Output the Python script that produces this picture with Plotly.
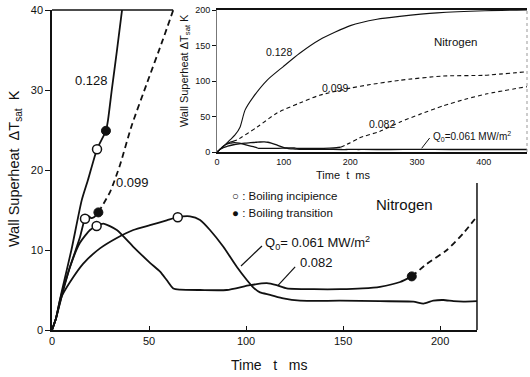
import plotly.graph_objects as go

# ---------------- main chart data (t in ms, wall superheat in K) ----------------
t128 = [0, 2, 5, 10, 15.3, 18.6, 23.2, 27.8, 28.9, 30.8, 33.5, 36.1]
y128 = [0, 1.4, 4.8, 10.0, 16.2, 18.8, 22.6, 24.9, 26.3, 30.0, 35.0, 40.0]

t099 = [0, 2, 4.1, 9.3, 14.4, 17.0, 18.6, 20.1, 21.6, 23.9]
y099 = [0, 1.4, 3.75, 7.9, 11.6, 13.9, 14.25, 14.0, 14.1, 14.7]
t099_dash = [23.9, 30, 35, 41, 49, 57, 62.5]
y099_dash = [14.7, 17.3, 20.6, 25.5, 30.9, 36.2, 40.0]

t082 = [0, 2, 5.0, 9.3, 14.4, 19.6, 23.0, 26.4, 33.4, 41.9, 50.5, 55.7, 59.1, 62.5, 66,
        76.3, 90, 102, 110.7, 115.8, 121, 135, 148.5, 160, 169, 179.4, 185.4]
y082 = [0, 1.4, 4.2, 7.9, 10.9, 12.5, 13.0, 13.3, 12.5, 10.4, 8.4, 7.3, 6.25, 5.2, 5.05,
        5.0, 5.0, 5.6, 5.85, 5.6, 5.2, 5.1, 5.1, 5.2, 5.4, 6.0, 6.7]
t082_dash = [185.4, 193.1, 203.5, 212.0, 219.0]
y082_dash = [6.7, 8.25, 10.0, 12.1, 14.2]

t061 = [0, 2, 5, 9.3, 16.1, 24.7, 33.4, 41.9, 50.5, 59.1, 64.8, 71.1, 76.3, 81.4, 88.3,
        95.2, 100.4, 103.8, 107.2, 112.4, 119.2, 127.8, 148.5, 169, 186.2, 191.4, 196.5,
        201.7, 206.9, 212, 219]
y061 = [0, 1.4, 4.2, 6.0, 8.3, 10.2, 11.5, 12.5, 13.1, 13.7, 14.1, 14.2, 13.75, 12.5, 10.4,
        7.9, 6.25, 5.3, 4.7, 4.4, 3.95, 3.66, 3.66, 3.6, 3.55, 3.3, 3.66, 3.75, 3.6, 3.55, 3.6]

incip_t = [23.2, 17.0, 23.0, 64.8]
incip_y = [22.6, 13.9, 13.0, 14.1]
trans_t = [27.8, 23.9, 185.4]
trans_y = [24.9, 14.7, 6.7]

main_xticks = [0, 50, 100, 150, 200]
main_yticks = [0, 10, 20, 30, 40]

# ---------------- inset data ----------------
in_t128 = [0, 5, 12, 19.5, 27, 34.5, 42, 54, 75, 99, 124, 154, 200, 240, 274, 330, 402, 465]
in_y128 = [0, 4, 10, 17, 24, 35, 59, 77, 101, 120, 139, 158, 178, 187, 191, 196, 199, 200]

in_t099 = [0, 5, 12, 20, 24]
in_y099 = [0, 4, 10, 14, 15]
in_t099_dash = [24, 30, 60, 90, 124, 154, 200, 230, 274, 339, 399, 465]
in_y099_dash = [15, 17, 35, 55, 69, 80, 90, 95, 101, 107, 108, 113]

in_t082_dash = [185.4, 200, 214, 244, 274, 304, 339, 375, 405, 465]
in_y082_dash = [6.7, 13, 20, 29, 42, 53, 65, 75, 82, 92]

in_t061_ext = [260, 300, 350, 400, 465]
in_y061_ext = [3.5, 3.6, 3.5, 3.5, 3.5]

inset_xticks = [0, 100, 200, 300, 400]
inset_yticks = [0, 50, 100, 150, 200]

FONT = "Liberation Sans, Arial, sans-serif"
BLACK = "#111111"

fig = go.Figure()

def line(x, y, xa="x", ya="y", dash="solid", width=1.8):
    fig.add_trace(go.Scatter(x=x, y=y, mode="lines", xaxis=xa, yaxis=ya,
                             line=dict(color=BLACK, width=width, dash=dash, shape="spline",
                                       smoothing=0.6),
                             showlegend=False, hoverinfo="skip"))

# main curves
line(t128, y128)
line(t099, y099)
line(t099_dash, y099_dash, dash="6px,4px")
line(t082, y082)
line(t082_dash, y082_dash, dash="6px,4px")
line(t061, y061)

fig.add_trace(go.Scatter(x=incip_t, y=incip_y, mode="markers", showlegend=False,
                         marker=dict(symbol="circle", size=9, color="white",
                                     line=dict(color=BLACK, width=1.5)), hoverinfo="skip"))
fig.add_trace(go.Scatter(x=trans_t, y=trans_y, mode="markers", showlegend=False,
                         marker=dict(symbol="circle", size=9, color=BLACK,
                                     line=dict(color=BLACK, width=1)), hoverinfo="skip"))

# inset curves
line(in_t128, in_y128, "x2", "y2", width=1.1)
line(in_t099, in_y099, "x2", "y2", width=1.1)
line(in_t099_dash, in_y099_dash, "x2", "y2", dash="4px,3px", width=1.1)
line(t082, y082, "x2", "y2", width=1.3)
line(in_t082_dash, in_y082_dash, "x2", "y2", dash="4px,3px", width=1.1)
line(t061 + in_t061_ext, y061 + in_y061_ext, "x2", "y2", width=1.3)

ann = []
def txt(x, y, s, size=13, xref="x", yref="y", xanchor="center", angle=0):
    ann.append(dict(x=x, y=y, xref=xref, yref=yref, text=s, showarrow=False,
                    xanchor=xanchor, yanchor="middle", textangle=angle,
                    font=dict(family=FONT, size=size, color=BLACK)))

# main labels
txt(20.1, 31.25, "0.128")
txt(41.5, 18.4, "0.099")
txt(108.8, 10.9, "Q<sub>0</sub>= 0.061 MW/m<sup>2</sup>", xanchor="left")
txt(126.8, 8.5, "0.082", xanchor="left")
txt(181.4, 15.75, "Nitrogen", size=15)
txt(91.5, 16.75, "○ : Boiling incipience", size=11.5, xanchor="left")
txt(91.5, 14.6, "● : Boiling transition", size=11.5, xanchor="left")

# inset labels
txt(93, 141, "0.128", size=10.5, xref="x2", yref="y2")
txt(177, 90, "0.099", size=10.5, xref="x2", yref="y2")
txt(247, 39, "0.082", size=10.5, xref="x2", yref="y2")
txt(321, 22.5, "Q<sub>0</sub>=0.061 MW/m<sup>2</sup>", size=10, xref="x2", yref="y2", xanchor="left")
txt(358, 155, "Nitrogen", size=11.5, xref="x2", yref="y2")

# axis titles (paper coordinates)
txt(0.457, -0.109, "Time\u00a0\u00a0\u00a0t\u00a0\u00a0\u00a0ms", size=14, xref="paper", yref="paper")
txt(-0.078, 0.506, "Wall Superheat\u00a0\u00a0ΔT<sub>sat</sub>\u00a0\u00a0K", size=14.5,
    xref="paper", yref="paper", angle=-90)
txt(0.613, 0.484, "Time\u00a0\u00a0t\u00a0\u00a0ms", size=11, xref="paper", yref="paper")
txt(0.28, 0.809, "Wall Superheat\u00a0ΔT<sub>sat</sub>\u00a0K", size=11,
    xref="paper", yref="paper", angle=-90)

shapes = [
    # main top border (visible part) and right border (below the inset)
    dict(type="line", xref="x domain", yref="y domain", x0=0, x1=0.285, y0=1, y1=1,
         line=dict(color=BLACK, width=1.5)),
    dict(type="line", xref="x domain", yref="y domain", x0=1, x1=1, y0=0, y1=0.459,
         line=dict(color=BLACK, width=1.5)),
    # inset right edge (faint)
    dict(type="line", xref="x2 domain", yref="y2 domain", x0=1, x1=1, y0=0, y1=1,
         line=dict(color="#999999", width=1, dash="dot")),
    # leader lines
    dict(type="line", xref="x", yref="y", x0=108.2, y0=10.5, x1=97.4, y1=8.0,
         line=dict(color=BLACK, width=1.2)),
    dict(type="line", xref="x", yref="y", x0=125.3, y0=7.9, x1=116.6, y1=5.6,
         line=dict(color=BLACK, width=1.2)),
    dict(type="line", xref="x2", yref="y2", x0=319, y0=19.7, x1=307, y1=5.2,
         line=dict(color=BLACK, width=1)),
]

tickfont = dict(family=FONT, size=11, color=BLACK)
small_tickfont = dict(family=FONT, size=9, color=BLACK)

fig.update_layout(
    width=530, height=377,
    margin=dict(l=52, r=3, t=10, b=47),
    paper_bgcolor="white", plot_bgcolor="rgba(0,0,0,0)",
    showlegend=False,
    annotations=ann, shapes=shapes,
    xaxis=dict(domain=[0, 0.8947], range=[0, 219], tickvals=main_xticks,
               showline=True, linecolor=BLACK, linewidth=1.5, mirror=False,
               ticks="inside", ticklen=4, tickcolor=BLACK, showgrid=False, zeroline=False,
               tickfont=tickfont, anchor="y"),
    yaxis=dict(domain=[0, 1], range=[0, 40], tickvals=main_yticks,
               showline=True, linecolor=BLACK, linewidth=1.5, mirror=False,
               ticks="outside", ticklen=5, tickcolor=BLACK, showgrid=False, zeroline=False,
               tickfont=tickfont, anchor="x"),
    xaxis2=dict(domain=[0.3474, 1.0], range=[0, 465], tickvals=inset_xticks,
                showline=True, linecolor=BLACK, linewidth=1.5, mirror=True,
                ticks="", showgrid=False, zeroline=False, tickfont=small_tickfont,
                anchor="y2", ticklabelstandoff=0),
    yaxis2=dict(domain=[0.55625, 1.0], range=[0, 200], tickvals=inset_yticks,
                showline=True, linecolor="#777777", linewidth=1, mirror=False,
                ticks="outside", ticklen=4, tickcolor=BLACK, showgrid=False, zeroline=False,
                tickfont=small_tickfont, anchor="x2"),
)

fig.write_html("out.html", config={"displayModeBar": False},
               post_script="document.body.style.margin='0';document.body.style.overflow='hidden';")
